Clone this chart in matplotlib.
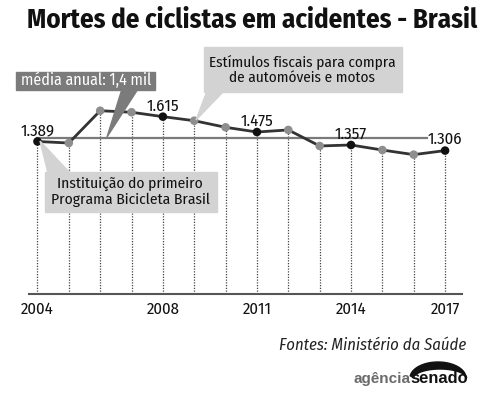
import matplotlib
matplotlib.use('Agg')
import matplotlib.pyplot as plt
from matplotlib import font_manager
from matplotlib.patches import Rectangle, Polygon
import numpy as np

# fonte estreita parecida com a Myriad do original (regular, negrito e italico estaticos)
pesos = {}
for f in font_manager.fontManager.ttflist:
    pesos.setdefault(f.name, set()).add((f.weight, f.style))
candidatas = ['Fira Sans Semi Condensed', 'Fira Sans Condensed', 'PT Sans Narrow',
              'Roboto Condensed', 'IBM Plex Sans Condensed', 'PT Sans', 'Fira Sans',
              'DejaVu Sans']
principal = [c for c in candidatas
             if {(400, 'normal'), (700, 'normal'), (400, 'italic')} <= pesos.get(c, set())][0]
plt.rcParams['font.family'] = [principal, 'DejaVu Sans']

# dados
anos = list(range(2004, 2018))
mortes = [1389, 1375, 1669, 1655, 1615, 1578, 1518, 1475, 1494, 1348, 1357, 1311, 1269, 1306]
anos_destaque = [2004, 2008, 2011, 2014, 2017]
media = 1420
media_texto = 'média anual: 1,4 mil'
nota_estimulos = 'Estímulos fiscais para compra\nde automóveis e motos'
nota_programa = 'Instituição do primeiro\nPrograma Bicicleta Brasil'
titulo = 'Mortes de ciclistas em acidentes - Brasil'
fonte = 'Fontes: Ministério da Saúde'

W, H = 494, 397
fig = plt.figure(figsize=(W / 100, H / 100), dpi=100)
renderer = fig.canvas.get_renderer()


def fx(px):
    return px / W


def fy(py):
    return 1 - py / H


def ajusta(t, largura):
    # muda o tamanho da fonte para o texto ter a largura do original
    w = t.get_window_extent(renderer).width
    t.set_fontsize(t.get_fontsize() * largura / w)
    return t.get_fontsize()


# camada das caixas de texto (coordenadas em pixels)
ov = fig.add_axes([0, 0, 1, 1], zorder=10)
ov.set_xlim(0, W)
ov.set_ylim(H, 0)
ov.axis('off')

# tamanho dos numeros a partir da largura de "2004"
teste = ov.text(0, 0, '2004', fontsize=13)
tam_num = ajusta(teste, 33)
teste.remove()

ax = fig.add_axes([fx(29), fy(294), fx(462) - fx(29), fy(40) - fy(294)])
ax.set_xlim(2003.73, 2017.54)
ax.set_ylim(0, 2313)

# linhas verticais pontilhadas
ax.vlines(anos, 0, mortes, colors='#444444', linestyles=(0, (1, 1.2)), lw=0.9, zorder=1)
# media
ax.plot([anos[0], 2016.42], [media, media], color='#7a7a7a', lw=1.6, zorder=2)
# serie
ax.plot(anos, mortes, color='#333333', lw=2, zorder=3)
cores = ['#111111' if a in anos_destaque else '#8e8e8e' for a in anos]
ax.scatter(anos, mortes, s=38, c=cores, zorder=4, linewidths=0)

for a, v in zip(anos, mortes):
    if a in anos_destaque:
        ax.annotate(format(v, ',').replace(',', '.'), (a, v), xytext=(0, 2),
                    textcoords='offset points', ha='center', va='bottom',
                    fontsize=tam_num, color='#111111', zorder=5)

for s in ['top', 'left', 'right']:
    ax.spines[s].set_visible(False)
ax.spines['bottom'].set_color('#555555')
ax.spines['bottom'].set_linewidth(1.5)
ax.set_yticks([])
ax.set_xticks(anos_destaque)
ax.set_xticklabels([str(a) for a in anos_destaque])
ax.tick_params(axis='x', length=0, pad=5, labelsize=tam_num, labelcolor='#111111')

ov.add_patch(Rectangle((16, 72), 139, 18, color='#7b7b7b'))
ov.add_patch(Polygon([(122, 89), (138, 89), (107, 137)], color='#7b7b7b'))
t = ov.text(86, 80.5, media_texto, ha='center', va='center', fontsize=12.5, color='white')
ajusta(t, 130)

ov.add_patch(Rectangle((204, 47), 198, 45, color='#d3d3d3'))
ov.add_patch(Polygon([(207, 91), (224, 91), (196, 120)], color='#d3d3d3'))
t = ov.text(302, 69.5, nota_estimulos, ha='center', va='center', fontsize=12.5,
            color='#111111', linespacing=1.15)
ajusta(t, 187)

ov.add_patch(Rectangle((45, 172), 172, 40, color='#d3d3d3'))
ov.add_patch(Polygon([(48, 173), (70, 173), (40, 141)], color='#d3d3d3'))
t = ov.text(130, 192, nota_programa, ha='center', va='center', fontsize=12.5,
            color='#111111', linespacing=1.15)
ajusta(t, 159)

t = ov.text(27, 20, titulo, ha='left', va='center', fontsize=17, fontweight='bold',
            color='#111111')
ajusta(t, 450)
t = ov.text(466, 345, fonte, ha='right', va='center', fontsize=13, style='italic',
            color='#222222')
ajusta(t, 187)

# logo agencia senado
t = ov.text(410, 383, 'agência', ha='right', va='baseline', fontsize=11,
            family='Liberation Sans', fontweight='bold', color='#6a6a6a')
ajusta(t, 57)
t = ov.text(410, 383, 'senado', ha='left', va='baseline', fontsize=11.5,
            family='Liberation Sans', fontweight='bold', color='#111111')
ajusta(t, 58)
t1 = np.radians(np.linspace(172, 8, 40))
t2 = t1[::-1]
arco = np.vstack([
    np.column_stack([438 + 28 * np.cos(t1), 378 - 16 * np.sin(t1)]),
    np.column_stack([440 + 27 * np.cos(t2), 379 - 10 * np.sin(t2)]),
])
ov.add_patch(Polygon(arco, color='#111111'))

fig.savefig('out.png', dpi=100)
